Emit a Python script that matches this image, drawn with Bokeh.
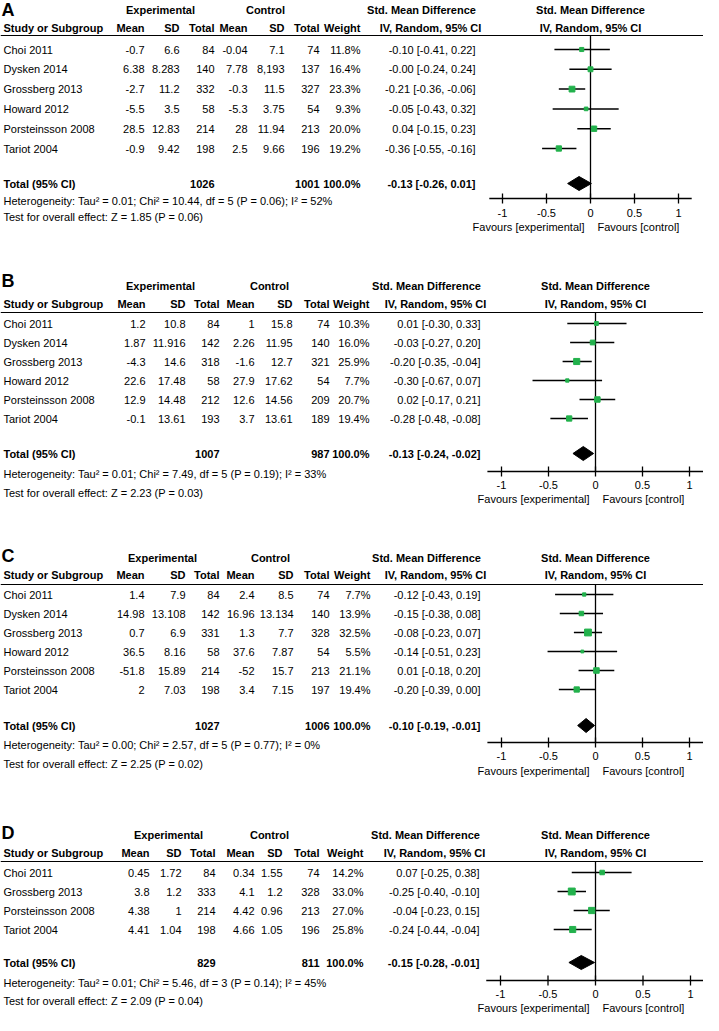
from bokeh.plotting import figure
from bokeh.models import Range1d, ColumnDataSource
from bokeh.embed import file_html
from bokeh.resources import INLINE
from bokeh.core.properties import value

# ---------------- DATA ----------------
studies_6 = ["Choi 2011", "Dysken 2014", "Grossberg 2013", "Howard 2012", "Porsteinsson 2008", "Tariot 2004"]
studies_4 = ["Choi 2011", "Grossberg 2013", "Porsteinsson 2008", "Tariot 2004"]

# Panel A
a_exp_mean = [-0.7, 6.38, -2.7, -5.5, 28.5, -0.9]
a_exp_sd = ["6.6", "8.283", "11.2", "3.5", "12.83", "9.42"]
a_exp_n = [84, 140, 332, 58, 214, 198]
a_ctl_mean = [-0.04, 7.78, -0.3, -5.3, 28, 2.5]
a_ctl_sd = ["7.1", "8,193", "11.5", "3.75", "11.94", "9.66"]
a_ctl_n = [74, 137, 327, 54, 213, 196]
a_weight = [11.8, 16.4, 23.3, 9.3, 20.0, 19.2]
a_smd = [-0.10, -0.00, -0.21, -0.05, 0.04, -0.36]
a_lo = [-0.41, -0.24, -0.36, -0.43, -0.15, -0.55]
a_hi = [0.22, 0.24, -0.06, 0.32, 0.23, -0.16]
a_total = [1026, 1001, 100.0, -0.13, -0.26, 0.01]
a_het = "Heterogeneity: Tau\u00b2 = 0.01; Chi\u00b2 = 10.44, df = 5 (P = 0.06); I\u00b2 = 52%"
a_test = "Test for overall effect: Z = 1.85 (P = 0.06)"

# Panel B
b_exp_mean = [1.2, 1.87, -4.3, 22.6, 12.9, -0.1]
b_exp_sd = ["10.8", "11.916", "14.6", "17.48", "14.48", "13.61"]
b_exp_n = [84, 142, 318, 58, 212, 193]
b_ctl_mean = [1, 2.26, -1.6, 27.9, 12.6, 3.7]
b_ctl_sd = ["15.8", "11.95", "12.7", "17.62", "14.56", "13.61"]
b_ctl_n = [74, 140, 321, 54, 209, 189]
b_weight = [10.3, 16.0, 25.9, 7.7, 20.7, 19.4]
b_smd = [0.01, -0.03, -0.20, -0.30, 0.02, -0.28]
b_lo = [-0.30, -0.27, -0.35, -0.67, -0.17, -0.48]
b_hi = [0.33, 0.20, -0.04, 0.07, 0.21, -0.08]
b_total = [1007, 987, 100.0, -0.13, -0.24, -0.02]
b_het = "Heterogeneity: Tau\u00b2 = 0.01; Chi\u00b2 = 7.49, df = 5 (P = 0.19); I\u00b2 = 33%"
b_test = "Test for overall effect: Z = 2.23 (P = 0.03)"

# Panel C
c_exp_mean = [1.4, 14.98, 0.7, 36.5, -51.8, 2]
c_exp_sd = ["7.9", "13.108", "6.9", "8.16", "15.89", "7.03"]
c_exp_n = [84, 142, 331, 58, 214, 198]
c_ctl_mean = [2.4, 16.96, 1.3, 37.6, -52, 3.4]
c_ctl_sd = ["8.5", "13.134", "7.7", "7.87", "15.7", "7.15"]
c_ctl_n = [74, 140, 328, 54, 213, 197]
c_weight = [7.7, 13.9, 32.5, 5.5, 21.1, 19.4]
c_smd = [-0.12, -0.15, -0.08, -0.14, 0.01, -0.20]
c_lo = [-0.43, -0.38, -0.23, -0.51, -0.18, -0.39]
c_hi = [0.19, 0.08, 0.07, 0.23, 0.20, 0.00]
c_total = [1027, 1006, 100.0, -0.10, -0.19, -0.01]
c_het = "Heterogeneity: Tau\u00b2 = 0.00; Chi\u00b2 = 2.57, df = 5 (P = 0.77); I\u00b2 = 0%"
c_test = "Test for overall effect: Z = 2.25 (P = 0.02)"

# Panel D
d_exp_mean = [0.45, 3.8, 4.38, 4.41]
d_exp_sd = ["1.72", "1.2", "1", "1.04"]
d_exp_n = [84, 333, 214, 198]
d_ctl_mean = [0.34, 4.1, 4.42, 4.66]
d_ctl_sd = ["1.55", "1.2", "0.96", "1.05"]
d_ctl_n = [74, 328, 213, 196]
d_weight = [14.2, 33.0, 27.0, 25.8]
d_smd = [0.07, -0.25, -0.04, -0.24]
d_lo = [-0.25, -0.40, -0.23, -0.44]
d_hi = [0.38, -0.10, 0.15, -0.04]
d_total = [829, 811, 100.0, -0.15, -0.28, -0.01]
d_het = "Heterogeneity: Tau\u00b2 = 0.01; Chi\u00b2 = 5.46, df = 3 (P = 0.14); I\u00b2 = 45%"
d_test = "Test for overall effect: Z = 2.09 (P = 0.04)"

tick_values = [-1, -0.5, 0, 0.5, 1]
tick_labels = ["-1", "-0.5", "0", "0.5", "1"]

# ---------------- LAYOUT / STYLE ----------------
FONT = "Liberation Sans"
FS = "11px"
GREEN = "#22b14c"
W, H = 703, 1015
PX, PY = 8, 8

panels = [
    dict(key="A", studies=studies_6, em=a_exp_mean, es=a_exp_sd, en=a_exp_n, cm=a_ctl_mean, cs=a_ctl_sd, cn=a_ctl_n,
         w=a_weight, smd=a_smd, lo=a_lo, hi=a_hi, tot=a_total, het=a_het, test=a_test,
         cols=[152, 187, 222, 255, 292, 327, 368, 483], exp_c=168, ctl_c=273,
         letter=17, h1=17, h2=35, line=43, row0=57, dr=19.8, total=191, hety=208, testy=224,
         axis=206, tl=220, fav=234, zero=598, scale=88),
    dict(key="B", studies=studies_6, em=b_exp_mean, es=b_exp_sd, en=b_exp_n, cm=b_ctl_mean, cs=b_ctl_sd, cn=b_ctl_n,
         w=b_weight, smd=b_smd, lo=b_lo, hi=b_hi, tot=b_total, het=b_het, test=b_test,
         cols=[153, 193, 227, 262, 300, 337, 377, 488], exp_c=168, ctl_c=277,
         letter=288, h1=293, h2=311, line=320, row0=331, dr=19, total=461, hety=481, testy=500,
         axis=479, tl=492, fav=506, zero=603, scale=94),
    dict(key="C", studies=studies_6, em=c_exp_mean, es=c_exp_sd, en=c_exp_n, cm=c_ctl_mean, cs=c_ctl_sd, cn=c_ctl_n,
         w=c_weight, smd=c_smd, lo=c_lo, hi=c_hi, tot=c_total, het=c_het, test=c_test,
         cols=[152, 193, 227, 262, 301, 337, 378, 488], exp_c=170, ctl_c=278,
         letter=563, h1=565, h2=582, line=592, row0=602, dr=19, total=733, hety=752, testy=771,
         axis=750, tl=763, fav=778, zero=603, scale=94),
    dict(key="D", studies=studies_4, em=d_exp_mean, es=d_exp_sd, en=d_exp_n, cm=d_ctl_mean, cs=d_ctl_sd, cn=d_ctl_n,
         w=d_weight, smd=d_smd, lo=d_lo, hi=d_hi, tot=d_total, het=d_het, test=d_test,
         cols=[157, 189, 223, 262, 290, 327, 371, 487], exp_c=176, ctl_c=277,
         letter=840, h1=842, h2=860, line=869, row0=880, dr=19, total=970, hety=990, testy=1008,
         axis=988, tl=1001, fav=1015, zero=603, scale=95),
]

p = figure(width=W, height=H, x_range=Range1d(PX, PX + W), y_range=Range1d(PY + H, PY),
           x_axis_type=None, y_axis_type=None, min_border=0, toolbar_location=None,
           output_backend="svg", outline_line_color=None, background_fill_color="white")
p.extra_x_ranges = {pd_["key"]: Range1d((PX - pd_["zero"]) / pd_["scale"], (PX + W - pd_["zero"]) / pd_["scale"])
                    for pd_ in panels}


def txt(xs, ys, texts, align="left", bold=False, size=FS, rn="default", xoff=0, font=FONT):
    src = ColumnDataSource(dict(x=list(xs), y=list(ys), t=list(texts)))
    p.text("x", "y", "t", source=src, text_align=align, text_baseline="middle",
           text_font=value(font), text_font_size=size,
           text_font_style="bold" if bold else "normal", text_color="black",
           x_range_name=rn, x_offset=xoff)


def fmt(v):
    return v if isinstance(v, str) else str(v)


for P in panels:
    k = P["key"]
    c = P["cols"]
    n = len(P["studies"])
    ys = [P["row0"] + P["dr"] * i for i in range(n)]

    # panel letter & headers
    txt([PX + 1], [P["letter"]], [k], bold=True, size="18px")
    txt([P["exp_c"], P["ctl_c"]], [P["h1"]] * 2, ["Experimental", "Control"], align="center", bold=True)
    txt([c[7] - 54], [P["h1"]], ["Std. Mean Difference"], align="center", bold=True)
    txt([c[7] - 45], [P["h2"]], ["IV, Random, 95% CI"], align="center", bold=True)
    txt([P["zero"]], [P["h1"]], ["Std. Mean Difference"], align="center", bold=True)
    txt([P["zero"]], [P["h2"]], ["IV, Random, 95% CI"], align="center", bold=True)
    txt([11], [P["h2"]], ["Study or Subgroup"], bold=True)
    txt(c[:7], [P["h2"]] * 7, ["Mean", "SD", "Total", "Mean", "SD", "Total", "Weight"], align="right", bold=True)
    p.segment(x0=[PX], y0=[P["line"]], x1=[PX + W], y1=[P["line"]], line_color="black", line_width=1.2)

    # table rows
    txt([11] * n, ys, P["studies"])
    for col_x, vals in zip(c[:6], [P["em"], P["es"], P["en"], P["cm"], P["cs"], P["cn"]]):
        txt([col_x] * n, ys, [fmt(v) for v in vals], align="right")
    txt([c[6]] * n, ys, ["%.1f%%" % w for w in P["w"]], align="right")
    txt([c[7]] * n, ys, ["%.2f [%.2f, %.2f]" % (m, l, h) for m, l, h in zip(P["smd"], P["lo"], P["hi"])],
        align="right")

    # total row
    t = P["tot"]
    txt([11], [P["total"]], ["Total (95% CI)"], bold=True)
    txt([c[2], c[5], c[6], c[7]], [P["total"]] * 4,
        [str(t[0]), str(t[1]), "%.1f%%" % t[2], "%.2f [%.2f, %.2f]" % (t[3], t[4], t[5])],
        align="right", bold=True)
    txt([11, 11], [P["hety"], P["testy"]], [P["het"], P["test"]])

    # forest plot
    p.segment(x0=[0], y0=[P["line"]], x1=[0], y1=[P["axis"]], line_color="black", line_width=1.3, x_range_name=k)
    p.segment(x0=P["lo"], y0=ys, x1=P["hi"], y1=ys, line_color="black", line_width=1.5, x_range_name=k)
    p.scatter(x=P["smd"], y=ys, size=[1.2 * w ** 0.5 for w in P["w"]], marker="square",
              fill_color=GREEN, line_color=GREEN, x_range_name=k)
    p.patch(x=[t[4], t[3], t[5], t[3]], y=[P["total"], P["total"] - 7, P["total"], P["total"] + 7],
            fill_color="black", line_color="black", x_range_name=k)

    # axis
    p.segment(x0=[-1.15], y0=[P["axis"]], x1=[1.15], y1=[P["axis"]], line_color="black", line_width=1.3,
              x_range_name=k)
    p.segment(x0=tick_values, y0=[P["axis"] - 5] * 5, x1=tick_values, y1=[P["axis"] + 5] * 5,
              line_color="black", line_width=1.3, x_range_name=k)
    txt(tick_values, [P["tl"]] * 5, tick_labels, align="center", rn=k)
    txt([0], [P["fav"]], ["Favours [experimental]"], align="right", rn=k, xoff=-6)
    txt([0], [P["fav"]], ["Favours [control]"], align="left", rn=k, xoff=7)

open("out.html", "w").write(file_html(p, INLINE))
